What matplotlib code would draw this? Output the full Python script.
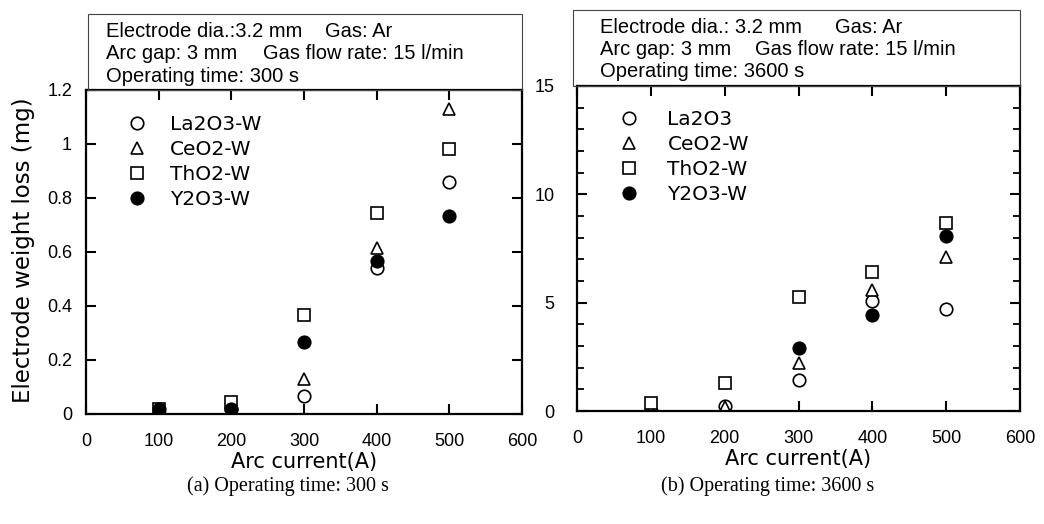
import numpy as np
import matplotlib
matplotlib.use("Agg")
import matplotlib.pyplot as plt
from matplotlib.patches import Rectangle
from matplotlib.ticker import MultipleLocator, FixedLocator, FixedFormatter

# ---- data -------------------------------------------------------------
current = [100, 200, 300, 400, 500]
series_names_a = ["La2O3-W", "CeO2-W", "ThO2-W", "Y2O3-W"]
series_names_b = ["La2O3", "CeO2-W", "ThO2-W", "Y2O3-W"]

# (a) operating time 300 s, weight loss (mg)
la_300 = [0.00, 0.02, 0.065, 0.54, 0.86]
ce_300 = [0.01, 0.02, 0.13, 0.615, 1.13]
th_300 = [0.02, 0.045, 0.365, 0.745, 0.98]
y_300 = [0.02, 0.02, 0.265, 0.565, 0.735]

# (b) operating time 3600 s, weight loss (mg)
la_3600 = [0.0, 0.25, 1.45, 5.1, 4.7]
ce_3600 = [0.05, 0.2, 2.2, 5.6, 7.1]
th_3600 = [0.35, 1.3, 5.25, 6.4, 8.7]
y_3600 = [np.nan, np.nan, 2.9, 4.45, 8.1]

x_ticks = [0, 100, 200, 300, 400, 500, 600]
y_ticks_a = [0, 0.2, 0.4, 0.6, 0.8, 1.0, 1.2]
y_labels_a = ["0", "0.2", "0.4", "0.6", "0.8", "1", "1.2"]
y_ticks_b = [0, 5, 10, 15]

box_lines_a = [("Electrode dia.:3.2 mm", "Gas: Ar"),
               ("Arc gap: 3 mm", "Gas flow rate: 15 l/min"),
               ("Operating time: 300 s", "")]
box_lines_b = [("Electrode dia.: 3.2 mm", "Gas: Ar"),
               ("Arc gap: 3 mm", "Gas flow rate: 15 l/min"),
               ("Operating time: 3600 s", "")]
caption_a = "(a) Operating time: 300 s"
caption_b = "(b) Operating time: 3600 s"

# ---- styling ----------------------------------------------------------
W, H = 1044, 524
SANS = "Liberation Sans"
WIDE = "DejaVu Sans"

markers = [
    dict(marker="o", mfc="white", mec="black"),
    dict(marker="^", mfc="white", mec="black"),
    dict(marker="s", mfc="white", mec="black"),
    dict(marker="o", mfc="black", mec="black"),
]

fig = plt.figure(figsize=(W / 100, H / 100), dpi=100)


def px_rect(x0, y_top, x1, y_bot):
    return [x0 / W, 1 - y_bot / H, (x1 - x0) / W, (y_bot - y_top) / H]


ax_a = fig.add_axes(px_rect(86, 90, 522, 414))
ax_b = fig.add_axes(px_rect(577, 86, 1020, 411))


def style_axes(ax, ypad):
    for s in ax.spines.values():
        s.set_linewidth(1.6)
    ax.set_xlim(0, 600)
    ax.xaxis.set_major_locator(FixedLocator(x_ticks))
    ax.tick_params(axis="both", which="major", direction="in", length=7,
                   width=1.5, top=True, right=True, labelsize=13)
    ax.tick_params(axis="x", pad=14)
    ax.tick_params(axis="y", pad=ypad)
    ax.tick_params(axis="both", which="minor", direction="in", length=5,
                   width=1.3, top=True, right=True)
    for lab in ax.get_xticklabels() + ax.get_yticklabels():
        lab.set_fontfamily(SANS)
    ax.set_xlabel("Arc current(A)", fontsize=15, family=WIDE, labelpad=1)


def draw_series(ax, data, names, textpad, top):
    for vals, name, mk in zip(data, names, markers):
        ax.plot(current, vals, linestyle="none", markersize=9, mew=1.2,
                label=name, **mk)
    ax.legend(loc="upper left", bbox_to_anchor=(0.095, top), frameon=False,
              borderpad=0, borderaxespad=0, handlelength=1.0,
              handletextpad=textpad, labelspacing=0.3,
              prop=dict(family=WIDE, size=14.5))


# (a)
draw_series(ax_a, [la_300, ce_300, th_300, y_300], series_names_a, 1.1, 0.922)
ax_a.set_ylim(0, 1.2)
ax_a.yaxis.set_major_locator(FixedLocator(y_ticks_a))
ax_a.yaxis.set_major_formatter(FixedFormatter(y_labels_a))
style_axes(ax_a, 10)
ax_a.set_ylabel("Electrode weight loss (mg)", fontsize=16.5, family=WIDE)
ax_a.yaxis.set_label_coords(-0.118, 0.505)

# (b)
draw_series(ax_b, [la_3600, ce_3600, th_3600, y_3600], series_names_b, 1.4, 0.926)
ax_b.set_ylim(0, 15)
ax_b.yaxis.set_major_locator(FixedLocator(y_ticks_b))
ax_b.yaxis.set_minor_locator(MultipleLocator(1))
style_axes(ax_b, 16)

# condition boxes above each panel
def cond_box(x0, y_top, x1, y_bot, lines, xl, xr, baselines):
    fig.patches.append(Rectangle((x0 / W, 1 - y_bot / H), (x1 - x0) / W,
                                 (y_bot - y_top) / H, transform=fig.transFigure,
                                 fill=False, edgecolor="#444444", linewidth=0.8))
    for (left, right), xr_i, yb in zip(lines, xr, baselines):
        fig.text(xl / W, 1 - yb / H, left, fontsize=14.5, family=SANS,
                 va="baseline", ha="left")
        if right:
            fig.text(xr_i / W, 1 - yb / H, right, fontsize=14.5, family=SANS,
                     va="baseline", ha="left")


cond_box(88, 14, 522, 90, box_lines_a, 106, [325, 263, 0], [37, 59, 82])
cond_box(573, 10, 1020, 86, box_lines_b, 600, [835, 755, 0], [33, 55, 77])

fig.text(288 / W, 1 - 486 / H, caption_a, fontsize=14.5,
         family="Liberation Serif", ha="center", va="center")
fig.text(768 / W, 1 - 486 / H, caption_b, fontsize=14.5,
         family="Liberation Serif", ha="center", va="center")

fig.savefig("out.png", dpi=100)
